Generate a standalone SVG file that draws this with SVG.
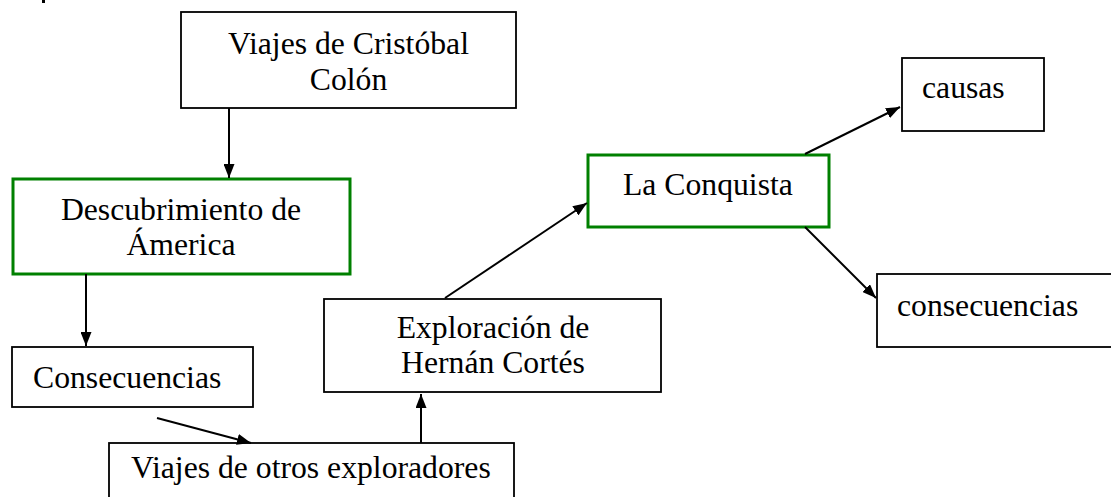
<svg xmlns="http://www.w3.org/2000/svg" width="1111" height="497" viewBox="0 0 1111 497">
<style>
.box{fill:#fff;stroke:#000;stroke-width:1.8}
.gbox{fill:#fff;stroke:#008000;stroke-width:3}
text{font-family:"Liberation Serif","Times New Roman",serif;font-size:31.7px;fill:#000}
.c{text-anchor:middle}
.edge{stroke:#000;stroke-width:2;fill:none;marker-end:url(#ah)}
</style>
<defs>
<marker id="ah" viewBox="0 0 14 11" refX="14" refY="5.5" markerWidth="14" markerHeight="11" markerUnits="userSpaceOnUse" orient="auto">
<path d="M0,0 L14,5.5 L0,11 z" fill="#000"/>
</marker>
</defs>
<rect x="42" y="0" width="3" height="3" fill="#000"/>
<g id="n-colon"><rect class="box" x="181" y="12" width="335" height="96"/><text class="c" x="348.5" y="54">Viajes de Cristóbal</text><text class="c" x="348.5" y="90">Colón</text></g>
<g id="n-descubrimiento"><rect class="gbox" x="13" y="179" width="337" height="95"/><text class="c" x="181" y="220">Descubrimiento de</text><text class="c" x="181" y="255">Ámerica</text></g>
<g id="n-consecuencias1"><rect class="box" x="12" y="347" width="241" height="60"/><text x="33" y="388">Consecuencias</text></g>
<g id="n-otros"><rect class="box" x="109" y="443" width="405" height="70"/><text x="131" y="478">Viajes de otros exploradores</text></g>
<g id="n-cortes"><rect class="box" x="324" y="299" width="337" height="93"/><text class="c" x="493" y="338">Exploración de</text><text class="c" x="493" y="373">Hernán Cortés</text></g>
<g id="n-conquista"><rect class="gbox" x="588" y="155" width="241" height="72"/><text x="623" y="195">La Conquista</text></g>
<g id="n-causas"><rect class="box" x="902" y="58" width="142" height="73"/><text x="922" y="98">causas</text></g>
<g id="n-consecuencias2"><rect class="box" x="877" y="274" width="250" height="73"/><text x="897" y="316">consecuencias</text></g>
<g id="connectors">
<line class="edge" x1="229" y1="108" x2="229" y2="178"/>
<line class="edge" x1="86" y1="274" x2="86" y2="346"/>
<line class="edge" x1="157" y1="418" x2="251" y2="443"/>
<line class="edge" x1="421" y1="443" x2="421" y2="394"/>
<line class="edge" x1="445" y1="298" x2="587" y2="203"/>
<line class="edge" x1="805" y1="154" x2="900" y2="107"/>
<line class="edge" x1="805" y1="227" x2="876" y2="298"/>
</g>
</svg>
